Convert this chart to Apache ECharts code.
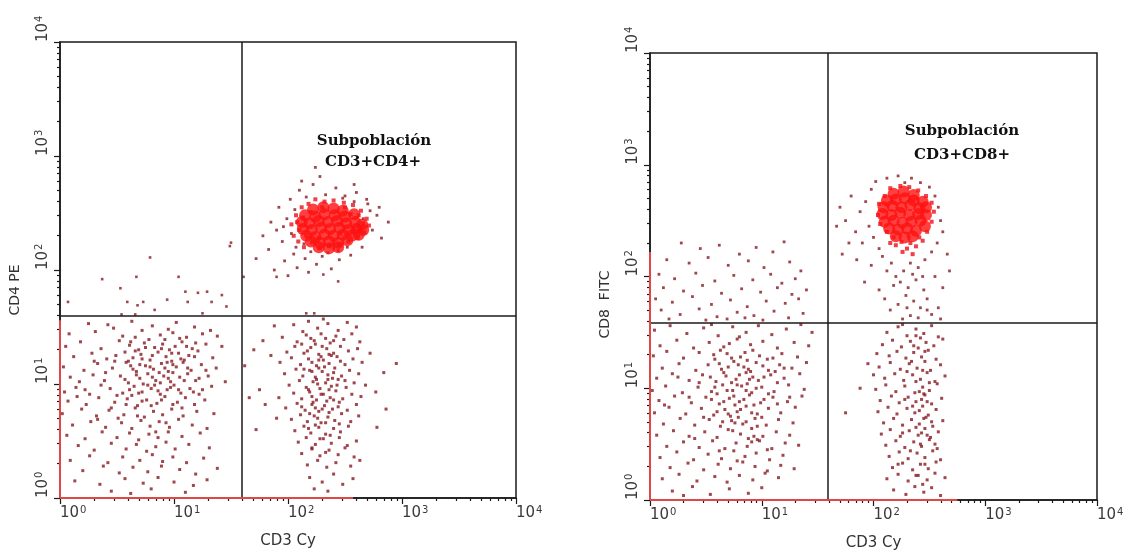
<!DOCTYPE html>
<html>
<head>
<meta charset="utf-8">
<script src="https://cdn.jsdelivr.net/npm/echarts@6/dist/echarts.min.js"></script>
<style>html,body{margin:0;padding:0;background:#fff;}#c{width:1127px;height:557px;}</style>
</head>
<body>
<div id="c"></div>
<script>
// ---- Data (log10 decades of fluorescence intensity) ----
const tickExponents = ['0','1','2','3','4'];
const minorTickOffsets = [0.301,0.477,0.602,0.699,0.778,0.845,0.903,0.954];
const xAxisNames = ['CD3 Cy','CD3 Cy'];
const yAxisNames = ['CD4 PE','CD8  FITC'];
const panelTitles = [['Subpoblación','CD3+CD4+'],['Subpoblación','CD3+CD8+']];
const gateLeft = [1.59, 1.60];
const gateRight = [1.59, 1.59];
const edgeLeftPanelY = [[0,0],[0,1.56]];
const edgeLeftPanelX = [[0,0],[2.57,0]];
const edgeRightPanelY = [[0,0],[0,2.22]];
const edgeRightPanelX = [[0,0],[2.75,0]];

// Left panel: CD3 Cy vs CD4 PE
const cd4DoubleNeg = [
[0.42,1.52],[0.63,1.55],[0.81,1.51],[1.02,1.54],[0.95,1.48],[1.18,1.50],[0.25,1.53],[1.32,1.47],
[0.08,1.44],[0.31,1.46],[0.55,1.42],[0.72,1.47],[0.88,1.43],[0.99,1.45],[1.11,1.41],[1.25,1.44],[0.47,1.49],[0.66,1.41],[1.38,1.42],
[0.05,1.33],[0.18,1.37],[0.36,1.31],[0.52,1.38],[0.61,1.34],[0.74,1.36],[0.83,1.32],[0.92,1.39],[1.01,1.33],[1.07,1.37],[1.16,1.31],[1.28,1.35],[1.42,1.33],[0.69,1.30],[0.96,1.30],
[0.12,1.24],[0.28,1.27],[0.41,1.22],[0.57,1.28],[0.64,1.23],[0.71,1.26],[0.79,1.21],[0.86,1.28],[0.93,1.24],[1.04,1.27],[1.09,1.21],[1.13,1.25],[1.21,1.29],[1.34,1.23],[0.49,1.25],[0.98,1.20],
[0.03,1.15],[0.21,1.12],[0.33,1.18],[0.46,1.14],[0.58,1.19],[0.67,1.11],[0.75,1.16],[0.82,1.13],[0.89,1.18],[0.95,1.11],[1.02,1.15],[1.08,1.19],[1.15,1.12],[1.24,1.17],[1.37,1.14],[0.62,1.16],[0.87,1.10],
[0.09,1.06],[0.17,1.02],[0.29,1.08],[0.39,1.03],[0.53,1.07],[0.60,1.01],[0.70,1.05],[0.77,1.09],[0.84,1.03],[0.91,1.07],[0.97,1.02],[1.05,1.06],[1.12,1.09],[1.19,1.03],[1.30,1.07],[1.45,1.02],[0.73,1.00],[0.99,1.10],
[0.04,0.93],[0.14,0.97],[0.26,0.91],[0.44,0.96],[0.55,0.92],[0.65,0.98],[0.72,0.93],[0.80,0.96],[0.88,0.91],[0.94,0.95],[1.00,0.99],[1.06,0.92],[1.14,0.96],[1.22,0.91],[1.33,0.98],[0.36,0.99],[0.83,0.99],
[0.07,0.85],[0.23,0.82],[0.34,0.88],[0.48,0.84],[0.59,0.87],[0.68,0.81],[0.76,0.86],[0.85,0.83],[0.92,0.89],[1.03,0.84],[1.10,0.88],[1.18,0.82],[1.27,0.86],[0.15,0.89],[0.63,0.90],
[0.02,0.74],[0.19,0.78],[0.32,0.72],[0.43,0.77],[0.56,0.73],[0.66,0.79],[0.74,0.71],[0.82,0.76],[0.90,0.73],[0.98,0.78],[1.08,0.72],[1.20,0.76],[1.35,0.74],[0.51,0.70],
[0.11,0.64],[0.27,0.67],[0.40,0.62],[0.54,0.66],[0.63,0.61],[0.71,0.68],[0.79,0.63],[0.87,0.67],[0.96,0.62],[1.04,0.69],[1.16,0.64],[1.29,0.61],[0.33,0.69],
[0.06,0.55],[0.22,0.52],[0.37,0.58],[0.50,0.53],[0.61,0.57],[0.69,0.51],[0.78,0.56],[0.86,0.53],[0.95,0.58],[1.07,0.54],[1.23,0.57],
[0.16,0.46],[0.30,0.42],[0.45,0.48],[0.58,0.43],[0.67,0.47],[0.76,0.41],[0.84,0.45],[0.93,0.49],[1.01,0.43],[1.13,0.47],[1.31,0.44],
[0.09,0.33],[0.26,0.37],[0.42,0.31],[0.55,0.36],[0.70,0.33],[0.81,0.38],[0.90,0.32],[0.99,0.36],[1.11,0.31],[1.26,0.35],
[0.20,0.24],[0.38,0.28],[0.52,0.22],[0.64,0.27],[0.77,0.23],[0.89,0.28],[1.05,0.25],[1.19,0.21],[1.38,0.26],
[0.13,0.15],[0.35,0.12],[0.57,0.17],[0.73,0.13],[0.86,0.18],[1.00,0.14],[1.17,0.11],[1.29,0.16],
[0.45,0.06],[0.80,0.08],[1.10,0.05],[0.62,0.04],
[0.62,1.37],[0.78,1.39],[0.90,1.35],[1.05,1.40],[1.19,1.36],
[0.66,1.29],[0.75,1.32],[0.89,1.31],[0.98,1.27],[1.11,1.33],
[0.60,1.20],[0.72,1.22],[0.81,1.25],[0.94,1.19],[1.06,1.22],[1.18,1.24],
[0.64,1.13],[0.70,1.17],[0.79,1.15],[0.92,1.14],[0.99,1.17],[1.12,1.14],
[0.57,1.04],[0.67,1.08],[0.81,1.06],[0.88,1.01],[0.95,1.05],[1.09,1.03],[1.22,1.05],
[0.61,0.95],[0.69,0.92],[0.77,0.99],[0.86,0.94],[0.97,0.97],[1.04,0.95],[1.17,0.93],
[0.58,0.82],[0.72,0.85],[0.80,0.81],[0.89,0.86],[0.99,0.82],[1.07,0.79],
[0.48,1.20],[0.40,1.10],[0.50,0.90],[1.28,1.12],[1.25,0.95],[0.30,1.20],[0.22,0.95],[0.45,0.79],[0.68,0.72],[0.93,0.66],[0.84,0.58]
];
const cd4UpperLeft = [
[1.50,2.24],[0.79,2.11],[0.37,1.92],[0.67,1.94],[1.04,1.94],[0.53,1.84],[0.07,1.72],[0.59,1.72],[0.68,1.69],[0.73,1.72],
[0.94,1.74],[1.10,1.81],[1.12,1.72],[1.21,1.80],[1.29,1.81],[1.33,1.72],[1.42,1.78],[1.46,1.68],[0.83,1.65],[1.25,1.62],
[0.54,1.61],[0.66,1.61],[1.49,2.21],[1.61,1.94],[1.90,1.94],[2.44,1.90],[2.16,1.62],[2.23,1.62],[2.31,1.96]
];
const cd4Cd3PosOnly = [
[2.05,1.52],[2.18,1.55],[2.26,1.49],[2.35,1.53],[2.44,1.47],[2.52,1.54],[2.13,1.46],[2.60,1.50],[1.88,1.51],[2.31,1.57],
[1.95,1.41],[2.08,1.37],[2.16,1.43],[2.23,1.38],[2.29,1.44],[2.37,1.36],[2.42,1.42],[2.49,1.39],[2.56,1.44],[2.63,1.37],[2.12,1.35],[2.33,1.40],[1.78,1.38],
[1.99,1.28],[2.06,1.33],[2.14,1.27],[2.20,1.32],[2.27,1.26],[2.34,1.31],[2.40,1.27],[2.46,1.33],[2.53,1.29],[2.61,1.31],[2.72,1.27],[2.24,1.35],[2.38,1.25],[1.70,1.30],
[1.93,1.19],[2.03,1.23],[2.11,1.17],[2.18,1.22],[2.25,1.16],[2.31,1.21],[2.36,1.18],[2.43,1.24],[2.50,1.17],[2.57,1.22],[2.65,1.19],[2.21,1.19],[2.29,1.24],[1.62,1.16],
[1.97,1.09],[2.07,1.13],[2.13,1.07],[2.19,1.12],[2.24,1.06],[2.30,1.11],[2.35,1.08],[2.41,1.14],[2.47,1.07],[2.54,1.12],[2.62,1.09],[2.27,1.14],[2.39,1.05],[2.84,1.10],
[2.01,0.99],[2.10,1.03],[2.16,0.97],[2.22,1.02],[2.28,0.96],[2.33,1.01],[2.38,0.98],[2.44,1.04],[2.51,0.97],[2.58,1.01],[2.68,0.99],[2.25,1.04],[2.36,0.95],
[1.92,0.88],[2.05,0.92],[2.12,0.87],[2.19,0.93],[2.25,0.86],[2.31,0.91],[2.37,0.88],[2.42,0.94],[2.48,0.87],[2.56,0.91],[2.64,0.89],[2.21,0.89],[2.34,0.85],[2.77,0.93],
[1.98,0.79],[2.08,0.83],[2.15,0.77],[2.21,0.82],[2.27,0.76],[2.32,0.81],[2.39,0.78],[2.45,0.84],[2.52,0.77],[2.60,0.82],[2.24,0.79],[2.36,0.75],
[2.03,0.69],[2.11,0.73],[2.17,0.67],[2.23,0.72],[2.29,0.66],[2.35,0.71],[2.41,0.68],[2.47,0.74],[2.55,0.67],[2.26,0.70],[2.62,0.72],
[2.06,0.59],[2.14,0.63],[2.20,0.57],[2.27,0.62],[2.33,0.56],[2.40,0.61],[2.46,0.58],[2.53,0.63],[2.18,0.61],
[2.09,0.49],[2.16,0.53],[2.24,0.47],[2.31,0.52],[2.38,0.48],[2.45,0.53],[2.52,0.46],[2.60,0.50],
[2.12,0.39],[2.21,0.43],[2.28,0.37],[2.36,0.42],[2.44,0.38],[2.50,0.44],[2.58,0.36],
[2.17,0.29],[2.26,0.33],[2.34,0.27],[2.42,0.31],[2.55,0.28],[2.63,0.33],
[2.19,0.18],[2.30,0.14],[2.40,0.21],[2.48,0.12],[2.57,0.17],[2.23,0.08],[2.35,0.06],
[1.75,0.95],[1.80,0.82],[1.66,0.88],[1.85,1.25],[1.90,0.70],[1.72,0.60],[2.78,0.62],[2.86,0.78],[2.95,1.18],
[2.20,1.40],[2.30,1.33],[2.40,1.38],[2.17,1.29],[2.27,1.21],[2.36,1.26],[2.46,1.20],
[2.21,1.11],[2.32,1.15],[2.40,1.10],[2.26,1.00],[2.35,1.04],[2.43,0.99],[2.18,0.95],
[2.29,0.91],[2.40,0.86],[2.22,0.84],[2.30,0.78],[2.44,0.80],[2.19,0.74],[2.33,0.66],[2.24,0.64],[2.37,0.55],[2.28,0.52],
[2.21,0.44],[2.33,0.40],[2.45,0.65],[2.14,1.13],[2.50,1.03],[2.12,0.80]
];
const cd4DoublePosHalo = [
[1.78,2.30],[1.85,2.42],[1.83,2.18],[1.92,2.55],[1.95,2.25],[1.97,2.08],[2.02,2.62],[2.05,2.14],[2.08,2.02],[2.10,2.70],
[2.15,2.10],[2.18,1.98],[2.22,2.75],[2.25,2.05],[2.30,2.12],[2.33,2.66],[2.38,2.01],[2.42,2.72],[2.45,2.09],[2.50,2.65],
[2.55,2.13],[2.60,2.68],[2.65,2.20],[2.70,2.58],[2.74,2.35],[2.78,2.48],[2.82,2.28],[2.88,2.42],[2.69,2.62],[1.72,2.10],
[1.88,2.00],[2.00,1.95],[2.12,2.78],[2.28,2.82],[2.58,2.75],[2.80,2.55],[1.90,2.35],[1.99,2.45],[2.03,2.32],[2.07,2.20],
[2.14,2.23],[2.20,2.16],[2.27,2.19],[2.35,2.15],[2.44,2.17],[2.52,2.20],[2.62,2.30],[2.66,2.45],[2.72,2.52],[2.58,2.60],
[2.48,2.63],[2.16,2.64],[2.06,2.53],[1.96,2.38],[2.24,2.90]
];
const cd4DoublePosRing = [
[2.03,2.40],[2.05,2.30],[2.07,2.48],[2.09,2.25],[2.12,2.55],[2.14,2.20],[2.18,2.58],[2.21,2.24],[2.24,2.62],[2.28,2.19],
[2.32,2.60],[2.36,2.21],[2.40,2.61],[2.45,2.22],[2.49,2.59],[2.53,2.25],[2.57,2.57],[2.61,2.28],[2.64,2.52],[2.67,2.33],
[2.69,2.45],[2.71,2.39],[2.10,2.35],[2.08,2.42],[2.16,2.30],[2.62,2.48],[2.58,2.36],[2.20,2.51],[2.27,2.28],[2.55,2.49],
[2.46,2.32],[2.13,2.46],[2.66,2.41],[2.30,2.55],[2.50,2.55]
];
const cd4DoublePosCore = [
[2.22,2.53],[2.31,2.55],[2.40,2.54],[2.48,2.52],
[2.15,2.48],[2.24,2.47],[2.32,2.49],[2.41,2.48],[2.50,2.47],[2.58,2.49],
[2.12,2.42],[2.19,2.41],[2.27,2.43],[2.35,2.42],[2.43,2.43],[2.51,2.41],[2.59,2.42],[2.65,2.40],
[2.13,2.36],[2.21,2.35],[2.29,2.37],[2.37,2.36],[2.45,2.37],[2.53,2.35],[2.60,2.36],[2.66,2.35],
[2.16,2.30],[2.24,2.29],[2.32,2.31],[2.40,2.30],[2.48,2.31],[2.56,2.30],[2.62,2.31],
[2.20,2.25],[2.28,2.24],[2.36,2.25],[2.44,2.24],[2.52,2.26],
[2.27,2.20],[2.36,2.19],[2.44,2.20]
];

// Right panel: CD3 Cy vs CD8 FITC
const cd8UpperLeft = [
[0.28,2.30],[0.45,2.25],[0.62,2.28],[0.95,2.26],[1.20,2.31],[1.10,2.22],[0.80,2.20],
[0.15,2.15],[0.35,2.12],[0.52,2.17],[0.70,2.10],[0.88,2.14],[1.02,2.08],[1.25,2.13],[1.35,2.05],
[0.08,2.02],[0.22,1.98],[0.41,2.03],[0.58,1.96],[0.75,2.01],[0.92,1.97],[1.08,2.02],[1.18,1.94],[1.30,1.98],
[0.12,1.90],[0.30,1.87],[0.47,1.92],[0.64,1.85],[0.82,1.89],[0.99,1.86],[1.14,1.90],[1.27,1.84],[1.40,1.88],
[0.05,1.80],[0.20,1.77],[0.38,1.82],[0.55,1.75],[0.72,1.79],[0.87,1.73],[1.04,1.78],[1.21,1.76],[1.33,1.80],
[0.10,1.70],[0.27,1.66],[0.44,1.71],[0.60,1.64],[0.78,1.68],[0.93,1.65],[1.11,1.69],[1.24,1.63],[1.37,1.67],
[0.17,1.62],[0.50,1.61],[0.69,1.62],[1.01,1.61],[0.85,1.63]
];
const cd8DoubleNeg = [
[0.04,1.52],[0.18,1.56],[0.33,1.49],[0.48,1.54],[0.61,1.47],[0.74,1.55],[0.86,1.50],[0.97,1.56],[1.09,1.48],[1.22,1.53],[1.35,1.57],[1.45,1.50],[0.55,1.57],[0.80,1.46],
[0.09,1.38],[0.24,1.43],[0.39,1.36],[0.53,1.41],[0.66,1.37],[0.78,1.44],[0.90,1.39],[1.01,1.42],[1.14,1.36],[1.29,1.41],[1.42,1.38],[0.71,1.40],
[0.03,1.29],[0.15,1.33],[0.30,1.27],[0.44,1.32],[0.58,1.26],[0.69,1.31],[0.81,1.28],[0.92,1.34],[1.05,1.26],[1.18,1.31],[1.32,1.28],[0.63,1.34],[0.87,1.25],
[0.11,1.18],[0.26,1.22],[0.41,1.16],[0.52,1.21],[0.64,1.17],[0.75,1.24],[0.84,1.19],[0.95,1.23],[1.06,1.16],[1.16,1.21],[1.27,1.18],[1.40,1.23],[0.70,1.19],[0.90,1.15],
[0.06,1.09],[0.20,1.13],[0.35,1.07],[0.47,1.12],[0.59,1.06],[0.68,1.11],[0.77,1.08],[0.86,1.14],[0.97,1.07],[1.08,1.12],[1.20,1.09],[1.34,1.13],[0.73,1.05],[0.92,1.10],
[0.02,0.98],[0.14,1.02],[0.29,0.96],[0.43,1.01],[0.55,0.97],[0.65,1.03],[0.74,0.98],[0.82,1.02],[0.91,0.96],[1.00,1.01],[1.11,0.97],[1.24,1.03],[1.38,0.99],[0.60,0.95],[0.87,1.04],
[0.08,0.89],[0.22,0.93],[0.37,0.87],[0.50,0.92],[0.62,0.86],[0.71,0.91],[0.80,0.88],[0.89,0.94],[0.99,0.87],[1.10,0.92],[1.23,0.88],[1.36,0.93],[0.76,0.85],
[0.04,0.78],[0.17,0.83],[0.32,0.77],[0.46,0.82],[0.57,0.76],[0.67,0.81],[0.78,0.79],[0.86,0.84],[0.96,0.77],[1.06,0.82],[1.17,0.78],[1.30,0.83],[0.72,0.75],
[0.12,0.68],[0.27,0.73],[0.40,0.67],[0.53,0.72],[0.63,0.66],[0.73,0.71],[0.83,0.68],[0.76,0.69],[0.94,0.73],[1.04,0.67],[1.15,0.72],[1.28,0.69],[0.79,0.74],
[0.06,0.58],[0.21,0.62],[0.35,0.57],[0.49,0.61],[0.60,0.56],[0.70,0.63],[0.81,0.59],[0.91,0.64],[1.01,0.57],[1.13,0.61],[1.25,0.58],
[0.15,0.48],[0.30,0.52],[0.44,0.47],[0.56,0.53],[0.67,0.46],[0.77,0.51],[0.87,0.48],[0.98,0.53],[1.09,0.46],[1.21,0.51],[1.33,0.49],
[0.09,0.38],[0.24,0.43],[0.39,0.36],[0.52,0.41],[0.64,0.37],[0.75,0.44],[0.85,0.39],[0.95,0.42],[1.07,0.36],[1.19,0.40],
[0.18,0.29],[0.34,0.33],[0.48,0.27],[0.61,0.32],[0.72,0.28],[0.83,0.34],[0.94,0.30],[1.05,0.26],[1.17,0.31],[1.29,0.28],
[0.11,0.19],[0.26,0.23],[0.42,0.17],[0.58,0.21],[0.69,0.16],[0.80,0.22],[0.92,0.18],[1.03,0.24],[1.15,0.20],
[0.20,0.08],[0.38,0.12],[0.54,0.05],[0.71,0.10],[0.88,0.06],[1.00,0.11],[0.30,0.04],
[0.57,1.30],[0.73,1.27],[0.85,1.32],[0.98,1.29],[1.10,1.27],
[0.62,1.22],[0.79,1.21],[0.88,1.17],[1.01,1.20],[1.12,1.15],
[0.54,1.10],[0.66,1.14],[0.80,1.12],[0.89,1.08],[1.02,1.10],[1.14,1.05],
[0.58,1.01],[0.69,0.98],[0.78,1.03],[0.86,0.98],[0.95,1.00],[1.06,0.95],
[0.55,0.90],[0.66,0.88],[0.75,0.93],[0.84,0.90],[0.93,0.85],[1.02,0.90],[1.14,0.86],
[0.60,0.79],[0.70,0.77],[0.81,0.81],[0.91,0.78],[1.00,0.74],[0.65,0.70],[0.86,0.70],[0.96,0.66],[0.74,0.62],
[0.44,1.05],[0.35,0.92],[0.25,1.10],[1.25,0.92],[1.20,1.18],[0.48,0.74],[0.40,0.55],[0.88,0.55],[1.05,0.45],[0.62,0.44],
[0.13,0.85],[0.78,0.35],[0.93,0.57],[0.96,0.54],[0.91,0.52]
];
const cd8Cd3PosOnly = [
[2.12,1.50],[2.22,1.55],[2.30,1.47],[2.38,1.53],[2.45,1.49],[2.52,1.56],[2.58,1.46],[2.26,1.57],[2.42,1.45],
[2.08,1.39],[2.17,1.43],[2.25,1.37],[2.33,1.42],[2.40,1.36],[2.47,1.41],[2.54,1.38],[2.62,1.44],
[2.14,1.29],[2.21,1.33],[2.29,1.27],[2.36,1.32],[2.43,1.28],[2.49,1.34],[2.56,1.26],[2.03,1.31],
[2.05,1.19],[2.15,1.23],[2.24,1.17],[2.32,1.22],[2.39,1.18],[2.46,1.24],[2.51,1.16],[2.60,1.21],[1.95,1.22],
[2.10,1.09],[2.19,1.13],[2.27,1.07],[2.35,1.12],[2.42,1.08],[2.48,1.14],[2.55,1.06],[2.64,1.11],[2.00,1.12],
[2.02,0.99],[2.11,1.03],[2.20,0.97],[2.28,1.02],[2.37,0.96],[2.44,1.01],[2.50,0.98],[2.57,1.04],[2.45,0.95],[1.88,1.00],
[2.06,0.89],[2.16,0.93],[2.23,0.87],[2.31,0.92],[2.38,0.88],[2.46,0.94],[2.52,0.86],[2.61,0.91],[2.43,0.90],
[2.04,0.79],[2.13,0.83],[2.21,0.77],[2.30,0.82],[2.37,0.78],[2.44,0.84],[2.49,0.76],[2.56,0.81],[1.75,0.78],[2.41,0.80],
[2.09,0.69],[2.18,0.73],[2.26,0.67],[2.34,0.72],[2.41,0.68],[2.47,0.74],[2.53,0.66],[2.62,0.71],
[2.07,0.59],[2.15,0.63],[2.24,0.57],[2.32,0.62],[2.40,0.58],[2.46,0.64],[2.51,0.56],[2.58,0.61],[2.43,0.60],
[2.11,0.49],[2.20,0.53],[2.28,0.47],[2.36,0.52],[2.43,0.48],[2.50,0.54],[2.57,0.46],
[2.14,0.39],[2.23,0.43],[2.31,0.37],[2.39,0.42],[2.46,0.38],[2.53,0.44],[2.60,0.36],
[2.17,0.29],[2.26,0.33],[2.35,0.27],[2.42,0.32],[2.49,0.28],[2.56,0.34],
[2.12,0.19],[2.22,0.23],[2.31,0.17],[2.40,0.22],[2.48,0.18],[2.55,0.24],[2.64,0.20],
[2.18,0.09],[2.29,0.05],[2.37,0.12],[2.45,0.07],[2.52,0.11],[2.60,0.04],
[2.38,1.47],[2.46,1.33],[2.34,1.24],[2.44,1.16],[2.50,1.05],[2.38,1.06],[2.41,0.97],[2.48,0.88],[2.35,0.84],[2.45,0.73],
[2.38,0.65],[2.48,0.58],[2.42,0.50],[2.33,0.44],[2.46,0.32],[2.38,0.22],[2.44,0.14],[2.28,0.90],[2.52,0.70],[2.30,1.15],
[2.22,0.32],[2.55,0.50],[2.36,1.38],[2.26,0.60]
];
const cd8DoublePosHalo = [
[1.70,2.62],[1.75,2.50],[1.80,2.72],[1.84,2.40],[1.88,2.58],[1.90,2.30],[1.93,2.67],[1.96,2.45],[1.98,2.78],[2.00,2.35],
[2.02,2.85],[2.05,2.25],[2.08,2.18],[2.12,2.88],[2.16,2.12],[2.22,2.90],[2.28,2.84],[2.34,2.88],[2.42,2.84],[2.50,2.80],
[2.55,2.72],[2.58,2.62],[2.60,2.50],[2.62,2.40],[2.57,2.30],[2.52,2.22],[2.46,2.15],[2.40,2.08],[2.33,2.12],[2.27,2.05],
[2.20,2.00],[2.12,2.05],[2.24,1.95],[2.31,1.90],[2.38,1.97],[2.45,1.88],[2.29,1.83],[2.36,1.78],[2.42,1.72],[2.48,1.80],
[2.22,1.75],[2.15,1.70],[2.52,1.66],[2.33,1.65],[2.26,1.62],[2.40,1.63],[2.58,1.72],[2.62,1.90],[2.05,1.88],[1.98,2.10],
[1.92,1.95],[1.85,2.15],[1.78,2.30],[2.66,2.20],[2.68,2.05],[2.55,2.00],[2.35,2.02],[2.18,1.92],[2.44,2.00],[2.30,1.72],
[2.48,1.70],[2.60,1.62],[1.67,2.45],[1.72,2.20],[2.10,1.80]
];
const cd8DoublePosRing = [
[2.04,2.55],[2.05,2.65],[2.06,2.47],[2.10,2.72],[2.12,2.40],[2.15,2.79],[2.18,2.35],[2.24,2.81],[2.25,2.31],[2.32,2.80],
[2.33,2.30],[2.40,2.77],[2.41,2.35],[2.47,2.72],[2.48,2.40],[2.52,2.66],[2.52,2.49],[2.54,2.58],[2.20,2.28],[2.30,2.25],
[2.38,2.27],[2.44,2.32],[2.26,2.22],[2.35,2.20],[2.15,2.30]
];
const cd8DoublePosCore = [
[2.18,2.74],[2.27,2.76],[2.36,2.73],
[2.12,2.68],[2.20,2.69],[2.28,2.70],[2.36,2.68],[2.44,2.67],
[2.09,2.62],[2.17,2.63],[2.25,2.62],[2.33,2.64],[2.41,2.61],[2.47,2.62],
[2.08,2.56],[2.16,2.55],[2.24,2.57],[2.32,2.55],[2.40,2.56],[2.47,2.55],
[2.10,2.49],[2.18,2.50],[2.26,2.48],[2.34,2.49],[2.42,2.50],[2.46,2.45],
[2.14,2.43],[2.22,2.42],[2.30,2.43],[2.38,2.41],
[2.20,2.36],[2.28,2.35],[2.35,2.36]
];

// ---- Chart ----
const DARK = '#861a22', BRIGHT = '#ff1010', RING = '#e8101a', EDGE = '#e04848', INK = '#1a1a1a';
const grids = [
  {left: 60, top: 42, width: 456, height: 456},
  {left: 650, top: 53, width: 447, height: 447}
];
const minorValues = [];
[0,1,2,3].forEach(d => minorTickOffsets.forEach(o => minorValues.push(d + o)));

const richLabel = {
  b: {fontSize: 15, fontFamily: 'DejaVu Sans', color: '#3a3a3a'},
  s: {fontSize: 10, fontFamily: 'DejaVu Sans', color: '#3a3a3a', verticalAlign: 'top', padding: [0,0,7,1]}
};
const fmt = v => '{b|10}{s|' + tickExponents[Math.round(v)] + '}';

const xAxes = [], yAxes = [];
grids.forEach((g, i) => {
  xAxes.push({
    type: 'value', gridIndex: i, min: 0, max: 4, interval: 1, position: 'bottom',
    name: xAxisNames[i], nameLocation: 'middle', nameGap: 36,
    nameTextStyle: {fontSize: 15, fontFamily: 'DejaVu Sans', color: '#333'},
    axisLine: {show: true, lineStyle: {color: INK, width: 1.5}},
    axisTick: {show: true, length: 6, lineStyle: {color: INK, width: 1.2}},
    axisLabel: {formatter: fmt, rich: richLabel, align: 'left', margin: 7},
    splitLine: {show: false}
  });
  xAxes.push({
    type: 'value', gridIndex: i, min: 0, max: 4, position: 'bottom',
    axisLine: {show: false}, axisLabel: {show: false}, splitLine: {show: false},
    axisTick: {show: true, length: 3, customValues: minorValues, lineStyle: {color: INK, width: 1.2}}
  });
  yAxes.push({
    type: 'value', gridIndex: i, min: 0, max: 4, interval: 1, position: 'left',
    name: yAxisNames[i], nameLocation: 'middle', nameGap: 38, nameRotate: 90,
    nameTextStyle: {fontSize: 14, fontFamily: 'DejaVu Sans', color: '#333', padding: i === 0 ? [0, 40, 0, 0] : [0, 56, 0, 0]},
    axisLine: {show: true, lineStyle: {color: INK, width: 1.5}},
    axisTick: {show: true, length: 6, lineStyle: {color: INK, width: 1.2}},
    axisLabel: {formatter: fmt, rich: richLabel, rotate: 90, align: 'left', verticalAlign: 'middle', margin: 17},
    splitLine: {show: false}
  });
  yAxes.push({
    type: 'value', gridIndex: i, min: 0, max: 4, position: 'left',
    axisLine: {show: false}, axisLabel: {show: false}, splitLine: {show: false},
    axisTick: {show: true, length: 3, customValues: minorValues, lineStyle: {color: INK, width: 1.2}}
  });
});

function scatter(gi, data, color, size, symbol) {
  return {type: 'scatter', xAxisIndex: gi * 2, yAxisIndex: gi * 2, data: data,
    symbol: symbol || 'rect', symbolSize: size, itemStyle: {color: color}, silent: true, z: 3};
}
function edge(gi, data) {
  return {type: 'line', xAxisIndex: gi * 2, yAxisIndex: gi * 2, data: data, clip: false,
    showSymbol: false, symbol: 'none', lineStyle: {color: EDGE, width: 2}, silent: true, z: 10, zlevel: 1};
}
function gateLines(gi, gate) {
  return {type: 'scatter', xAxisIndex: gi * 2, yAxisIndex: gi * 2, data: [], silent: true, z: 2,
    markLine: {silent: true, symbol: 'none', animation: false, label: {show: false},
      lineStyle: {color: INK, width: 1.5, type: 'solid'},
      data: [{xAxis: gate[0]}, {yAxis: gate[1]}]}};
}

const series = [
  gateLines(0, gateLeft),
  scatter(0, cd4DoubleNeg, DARK, 3),
  scatter(0, cd4UpperLeft, DARK, 2.6),
  scatter(0, cd4Cd3PosOnly, DARK, 3),
  scatter(0, cd4DoublePosHalo, DARK, 2.8),
  scatter(0, cd4DoublePosRing, RING, 4),
  scatter(0, cd4DoublePosCore, BRIGHT, 12, 'circle'),
  edge(0, edgeLeftPanelY), edge(0, edgeLeftPanelX),
  gateLines(1, gateRight),
  scatter(1, cd8UpperLeft, DARK, 2.8),
  scatter(1, cd8DoubleNeg, DARK, 3),
  scatter(1, cd8Cd3PosOnly, DARK, 3),
  scatter(1, cd8DoublePosHalo, DARK, 2.8),
  scatter(1, cd8DoublePosRing, RING, 4),
  scatter(1, cd8DoublePosCore, BRIGHT, 12, 'circle'),
  edge(1, edgeRightPanelY), edge(1, edgeRightPanelX)
];

const titleFont = 'bold 15px "DejaVu Serif"';
const graphic = [
  {type: 'text', style: {text: panelTitles[0][0], x: 374, y: 141, align: 'center', verticalAlign: 'middle', font: titleFont, fill: '#111'}},
  {type: 'text', style: {text: panelTitles[0][1], x: 373, y: 162, align: 'center', verticalAlign: 'middle', font: titleFont, fill: '#111'}},
  {type: 'text', style: {text: panelTitles[1][0], x: 962, y: 131, align: 'center', verticalAlign: 'middle', font: titleFont, fill: '#111'}},
  {type: 'text', style: {text: panelTitles[1][1], x: 962, y: 155, align: 'center', verticalAlign: 'middle', font: titleFont, fill: '#111'}}
];

const chart = echarts.init(document.getElementById('c'), null, {renderer: 'canvas'});
chart.setOption({
  animation: false,
  backgroundColor: '#ffffff',
  grid: grids.map(g => Object.assign({show: true, borderColor: INK, borderWidth: 1.5, backgroundColor: 'transparent'}, g)),
  xAxis: xAxes,
  yAxis: yAxes,
  series: series,
  graphic: graphic
});
</script>
</body>
</html>
